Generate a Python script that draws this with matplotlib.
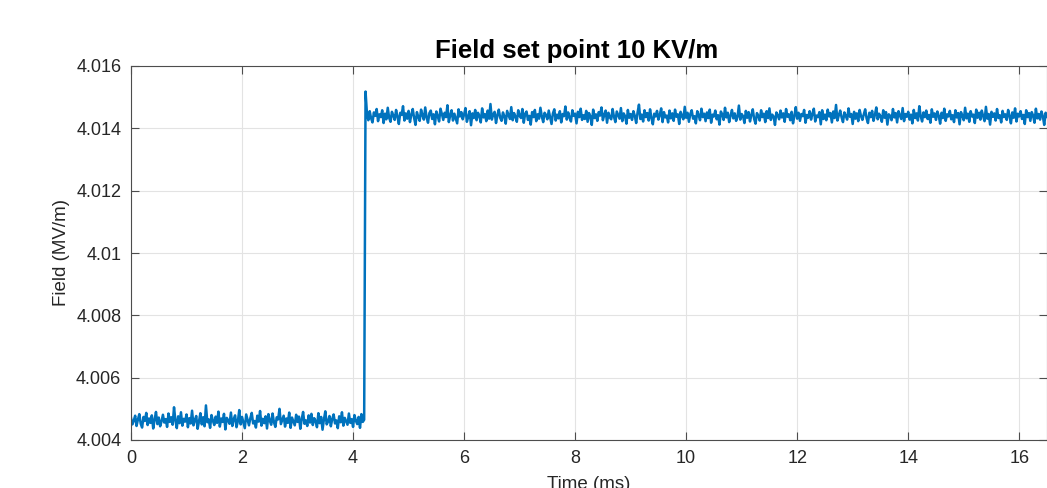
import numpy as np
import matplotlib.pyplot as plt

plt.rcParams["font.family"] = ["Liberation Sans", "DejaVu Sans"]

dt = 0.025  # ms between samples

# field before the set point change (0 .. 4.20 ms)
field_low = [
    4.00471, 4.00450, 4.00462, 4.00478, 4.00445, 4.00466, 4.00483, 4.00452, 4.00440, 4.00474,
    4.00461, 4.00487, 4.00448, 4.00469, 4.00455, 4.00479, 4.00437, 4.00465, 4.00490, 4.00451,
    4.00472, 4.00444, 4.00460, 4.00481, 4.00456, 4.00467, 4.00442, 4.00485, 4.00458, 4.00473,
    4.00449, 4.00505, 4.00463, 4.00438, 4.00476, 4.00454, 4.00489, 4.00446, 4.00468, 4.00459,
    4.00482, 4.00441, 4.00470, 4.00453, 4.00494, 4.00447, 4.00464, 4.00477, 4.00436, 4.00460,
    4.00486, 4.00450, 4.00473, 4.00444, 4.00511, 4.00457, 4.00466, 4.00439, 4.00480, 4.00462,
    4.00448, 4.00475, 4.00455, 4.00491, 4.00443, 4.00469, 4.00458, 4.00484, 4.00434, 4.00471,
    4.00463, 4.00452, 4.00488, 4.00445, 4.00467, 4.00479, 4.00441, 4.00460, 4.00496, 4.00450,
    4.00474, 4.00456, 4.00438, 4.00482, 4.00465, 4.00447, 4.00470, 4.00487, 4.00453, 4.00461,
    4.00440, 4.00478, 4.00459, 4.00493, 4.00446, 4.00468, 4.00454, 4.00476, 4.00437, 4.00483,
    4.00462, 4.00449, 4.00485, 4.00457, 4.00442, 4.00473, 4.00466, 4.00500, 4.00451, 4.00464,
    4.00478, 4.00443, 4.00469, 4.00455, 4.00488, 4.00439, 4.00472, 4.00460, 4.00447, 4.00481,
    4.00458, 4.00475, 4.00436, 4.00467, 4.00490, 4.00452, 4.00463, 4.00445, 4.00479, 4.00456,
    4.00484, 4.00448, 4.00470, 4.00461, 4.00441, 4.00486, 4.00454, 4.00474, 4.00433, 4.00466,
    4.00492, 4.00450, 4.00459, 4.00477, 4.00444, 4.00468, 4.00482, 4.00453, 4.00463, 4.00438,
    4.00476, 4.00457, 4.00489, 4.00446, 4.00471, 4.00460, 4.00449, 4.00485, 4.00455, 4.00467,
    4.00442, 4.00480, 4.00462, 4.00451, 4.00474, 4.00439, 4.00483, 4.00458, 4.00465,
]

# overshoot right after the step (4.225 ms)
field_spike = [4.01518]

# field after the step (4.25 .. 16.50 ms)
field_high = [
    4.01448, 4.01426, 4.01455, 4.01432, 4.01419, 4.01451, 4.01440, 4.01462, 4.01423, 4.01445,
    4.01436, 4.01458, 4.01417, 4.01447, 4.01429, 4.01466, 4.01434, 4.01421, 4.01453, 4.01441,
    4.01427, 4.01459, 4.01438, 4.01414, 4.01450, 4.01443, 4.01471, 4.01425, 4.01448, 4.01431,
    4.01456, 4.01420, 4.01444, 4.01462, 4.01433, 4.01411, 4.01452, 4.01437, 4.01424, 4.01460,
    4.01442, 4.01428, 4.01467, 4.01435, 4.01418, 4.01449, 4.01457, 4.01430, 4.01445, 4.01413,
    4.01454, 4.01439, 4.01422, 4.01463, 4.01446, 4.01427, 4.01450, 4.01436, 4.01474, 4.01420,
    4.01441, 4.01458, 4.01425, 4.01447, 4.01432, 4.01416, 4.01461, 4.01438, 4.01452, 4.01429,
    4.01444, 4.01465, 4.01421, 4.01437, 4.01455, 4.01410, 4.01448, 4.01433, 4.01459, 4.01426,
    4.01450, 4.01440, 4.01419, 4.01464, 4.01435, 4.01446, 4.01423, 4.01457, 4.01431, 4.01478,
    4.01428, 4.01445, 4.01453, 4.01417, 4.01442, 4.01460, 4.01434, 4.01424, 4.01451, 4.01439,
    4.01415, 4.01456, 4.01443, 4.01430, 4.01468, 4.01426, 4.01449, 4.01437, 4.01421, 4.01458,
    4.01441, 4.01433, 4.01462, 4.01418, 4.01447, 4.01454, 4.01427, 4.01440, 4.01412, 4.01452,
    4.01436, 4.01459, 4.01423, 4.01445, 4.01431, 4.01466, 4.01438, 4.01420, 4.01450, 4.01443,
    4.01429, 4.01457, 4.01435, 4.01414, 4.01448, 4.01461, 4.01425, 4.01444, 4.01432, 4.01455,
    4.01419, 4.01446, 4.01439, 4.01470, 4.01428, 4.01451, 4.01434, 4.01422, 4.01458, 4.01440,
    4.01447, 4.01416, 4.01453, 4.01436, 4.01463, 4.01427, 4.01442, 4.01430, 4.01456, 4.01421,
    4.01449, 4.01438, 4.01411, 4.01460, 4.01433, 4.01445, 4.01424, 4.01452, 4.01441, 4.01467,
    4.01426, 4.01443, 4.01457, 4.01418, 4.01450, 4.01435, 4.01429, 4.01462, 4.01437, 4.01420,
    4.01454, 4.01442, 4.01431, 4.01465, 4.01423, 4.01448, 4.01439, 4.01415, 4.01459, 4.01434,
    4.01446, 4.01427, 4.01455, 4.01440, 4.01417, 4.01451, 4.01476, 4.01430, 4.01444, 4.01422,
    4.01458, 4.01436, 4.01449, 4.01425, 4.01461, 4.01433, 4.01413, 4.01447, 4.01438, 4.01456,
    4.01428, 4.01443, 4.01464, 4.01420, 4.01452, 4.01435, 4.01441, 4.01419, 4.01457, 4.01432,
    4.01448, 4.01424, 4.01460, 4.01437, 4.01445, 4.01414, 4.01453, 4.01440, 4.01429, 4.01469,
    4.01434, 4.01450, 4.01421, 4.01446, 4.01458, 4.01431, 4.01439, 4.01416, 4.01455, 4.01442,
    4.01426, 4.01463, 4.01436, 4.01447, 4.01423, 4.01451, 4.01433, 4.01460, 4.01418, 4.01444,
    4.01438, 4.01457, 4.01429, 4.01442, 4.01412, 4.01454, 4.01445, 4.01427, 4.01466, 4.01435,
    4.01450, 4.01420, 4.01441, 4.01459, 4.01432, 4.01448, 4.01424, 4.01437, 4.01473, 4.01428,
    4.01446, 4.01439, 4.01417, 4.01456, 4.01434, 4.01452, 4.01422, 4.01443, 4.01461, 4.01430,
    4.01415, 4.01449, 4.01440, 4.01425, 4.01458, 4.01436, 4.01447, 4.01420, 4.01455, 4.01433,
    4.01464, 4.01427, 4.01444, 4.01438, 4.01411, 4.01451, 4.01442, 4.01429, 4.01457, 4.01435,
    4.01448, 4.01421, 4.01462, 4.01437, 4.01445, 4.01426, 4.01453, 4.01416, 4.01440, 4.01468,
    4.01431, 4.01450, 4.01424, 4.01446, 4.01439, 4.01459, 4.01418, 4.01443, 4.01434, 4.01455,
    4.01428, 4.01447, 4.01463, 4.01422, 4.01441, 4.01436, 4.01452, 4.01413, 4.01458, 4.01430,
    4.01444, 4.01426, 4.01460, 4.01438, 4.01449, 4.01419, 4.01454, 4.01433, 4.01475, 4.01425,
    4.01442, 4.01457, 4.01435, 4.01420, 4.01451, 4.01440, 4.01428, 4.01464, 4.01437, 4.01446,
    4.01414, 4.01453, 4.01431, 4.01448, 4.01423, 4.01459, 4.01439, 4.01427, 4.01445, 4.01461,
    4.01432, 4.01417, 4.01450, 4.01436, 4.01456, 4.01424, 4.01443, 4.01467, 4.01429, 4.01447,
    4.01438, 4.01421, 4.01458, 4.01434, 4.01452, 4.01412, 4.01445, 4.01440, 4.01426, 4.01462,
    4.01435, 4.01449, 4.01419, 4.01455, 4.01441, 4.01430, 4.01465, 4.01423, 4.01446, 4.01437,
    4.01453, 4.01428, 4.01444, 4.01416, 4.01459, 4.01433, 4.01448, 4.01425, 4.01471, 4.01439,
    4.01422, 4.01451, 4.01436, 4.01457, 4.01430, 4.01443, 4.01418, 4.01461, 4.01437, 4.01448,
    4.01427, 4.01454, 4.01440, 4.01415, 4.01450, 4.01433, 4.01463, 4.01424, 4.01445, 4.01438,
    4.01456, 4.01429, 4.01442, 4.01420, 4.01458, 4.01435, 4.01449, 4.01413, 4.01452, 4.01441,
    4.01426, 4.01466, 4.01432, 4.01447, 4.01421, 4.01455, 4.01438, 4.01444, 4.01417, 4.01460,
    4.01434, 4.01450, 4.01428, 4.01457, 4.01439, 4.01423, 4.01469, 4.01431, 4.01446, 4.01412,
    4.01453, 4.01437, 4.01448, 4.01425, 4.01462, 4.01433, 4.01442, 4.01419, 4.01456, 4.01436,
    4.01445, 4.01427, 4.01459, 4.01440, 4.01416, 4.01451, 4.01434, 4.01464, 4.01422, 4.01447,
    4.01438, 4.01455, 4.01430, 4.01443, 4.01414, 4.01458, 4.01436, 4.01449, 4.01424, 4.01452,
    4.01441, 4.01418, 4.01463, 4.01432, 4.01446, 4.01428, 4.01454, 4.01439, 4.01411, 4.01450,
    4.01437,
]

x_ticks = [0, 2, 4, 6, 8, 10, 12, 14, 16]
y_ticks = [4.004, 4.006, 4.008, 4.01, 4.012, 4.014, 4.016]
y_tick_labels = ["4.004", "4.006", "4.008", "4.01", "4.012", "4.014", "4.016"]

field = np.array(field_low + field_spike + field_high)
time = np.arange(len(field)) * dt

fig = plt.figure(figsize=(10.47, 4.88), dpi=100)
ax = fig.add_axes([131 / 1047, 48 / 488, 916 / 1047, 374 / 488])

ax.plot(time, field, color="#0072BD", linewidth=1.8)

ax.set_xlim(0, 16.5)
ax.set_ylim(4.004, 4.016)
ax.set_xticks(x_ticks)
ax.set_yticks(y_ticks)
ax.set_yticklabels(y_tick_labels)

ax.grid(True, color="#e3e3e3", linewidth=0.8)
ax.set_axisbelow(True)
ax.tick_params(direction="in", length=6, width=0.8, colors="#4d4d4d",
               labelcolor="#262626", labelsize=13, top=True, right=True, pad=7)
for s in ax.spines.values():
    s.set_color("#4d4d4d")
    s.set_linewidth(0.8)

# the x label sits partly below the bottom edge, as in the original export
ax.set_xlabel("Time (ms)", fontsize=13.5, color="#262626", labelpad=7)
ax.set_ylabel("Field (MV/m)", fontsize=13.5, color="#262626", labelpad=4)
ax.set_title("Field set point 10 KV/m", fontsize=18.5, fontweight="bold",
             x=0.486, pad=6)

fig.savefig("out.png", dpi=100)
